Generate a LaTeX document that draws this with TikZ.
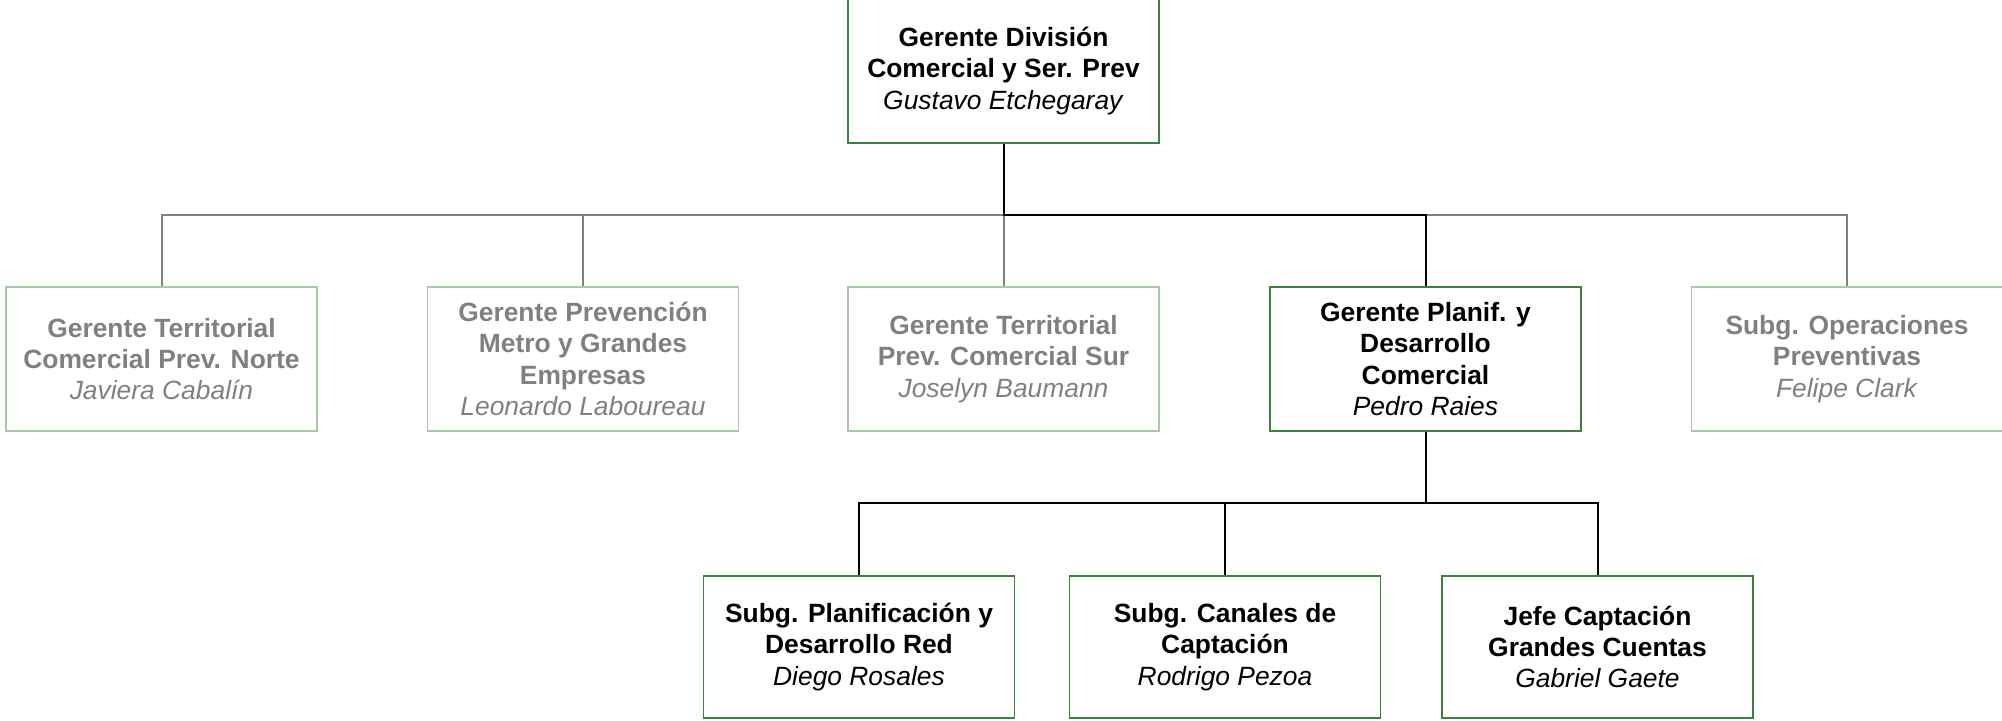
\documentclass[tikz,border=0pt]{standalone}
\usepackage{fontspec}
\setmainfont{Liberation Sans}
\definecolor{activeg}{HTML}{3F7F3F}
\definecolor{inactg}{HTML}{A8C8A8}
\definecolor{graytxt}{HTML}{808080}
\definecolor{grayline}{HTML}{808080}
\tikzset{
  box/.style={draw=activeg, line width=0.7pt, minimum width=155.5pt, minimum height=72pt,
    inner sep=0pt, align=center, text=black, font=\fontsize{13.2pt}{15.6pt}\selectfont},
  abox/.style={box},
  ibox/.style={box, draw=inactg, text=graytxt},
  bline/.style={draw=black, line width=1pt},
  gline/.style={draw=grayline, line width=1pt}
}
\newcommand{\ttl}[1]{\textbf{#1}}
\newcommand{\nm}[1]{\textit{#1}}
\begin{document}
\begin{tikzpicture}[x=0.5pt,y=-0.5pt]
\useasboundingbox (0,0) rectangle (2002,721);
\node[abox] (top) at (1003.5,71) {\ttl{Gerente División}\\\ttl{Comercial y Ser. Prev}\\\nm{Gustavo Etchegaray}};
\node[ibox] (norte) at (161.5,359) {\ttl{Gerente Territorial}\\\ttl{Comercial Prev. Norte}\\\nm{Javiera Cabalín}};
\node[ibox] (metro) at (583,359) {\ttl{Gerente Prevención}\\\ttl{Metro y Grandes}\\\ttl{Empresas}\\\nm{Leonardo Laboureau}};
\node[ibox] (sur) at (1003.5,359) {\ttl{Gerente Territorial}\\\ttl{Prev. Comercial Sur}\\\nm{Joselyn Baumann}};
\node[abox] (planif) at (1425.5,359) {\ttl{Gerente Planif. y}\\\ttl{Desarrollo}\\\ttl{Comercial}\\\nm{Pedro Raies}};
\node[ibox] (oper) at (1847,359) {\ttl{Subg. Operaciones}\\\ttl{Preventivas}\\\nm{Felipe Clark}};
\node[abox, minimum height=71pt] (red) at (859,647) {\ttl{Subg. Planificación y}\\\ttl{Desarrollo Red}\\\nm{Diego Rosales}};
\node[abox, minimum height=71pt] (canales) at (1225,647) {\ttl{Subg. Canales de}\\\ttl{Captación}\\\nm{Rodrigo Pezoa}};
\node[abox, minimum height=71pt] (jefe) at (1597.5,647) {\ttl{Jefe Captación}\\\ttl{Grandes Cuentas}\\\nm{Gabriel Gaete}};
\coordinate (bus) at (1003.5,215);
\coordinate (bus2) at (1425.5,503);
% gray connectors
\draw[gline] (bus) -| (norte.north);
\draw[gline] (bus) -| (metro.north);
\draw[gline] (bus) -- (sur.north);
\draw[gline] (bus) -| (oper.north);
% black connectors
\draw[bline] (top.south) -- (bus) -| (planif.north);
\draw[bline] (planif.south) -- (bus2) -| (red.north);
\draw[bline] (bus2) -| (canales.north);
\draw[bline] (bus2) -| (jefe.north);
\end{tikzpicture}
\end{document}
